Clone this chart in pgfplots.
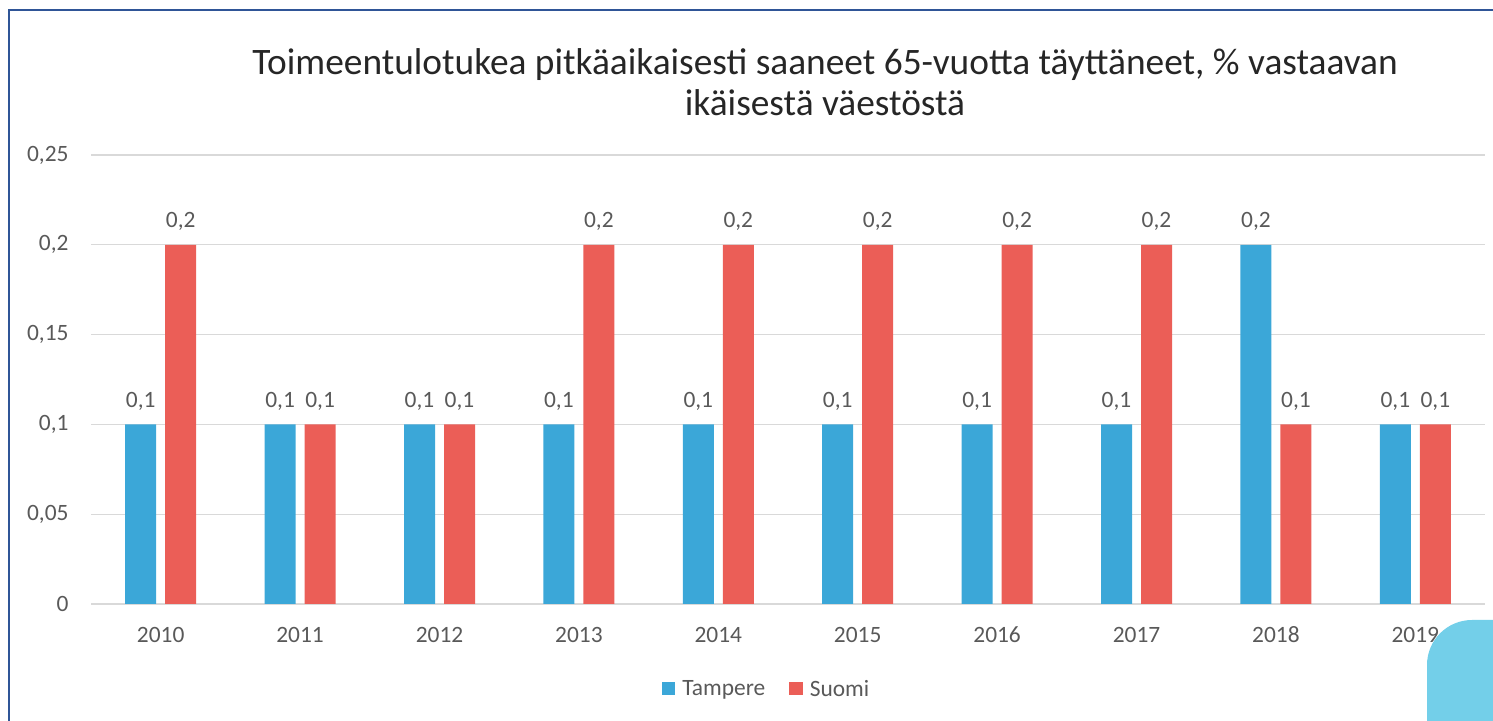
\documentclass[border=0pt]{standalone}
\usepackage{pgfplots}
\pgfplotsset{compat=1.18}
\usepackage{fontspec}
\setmainfont{Carlito}
\definecolor{tampere}{HTML}{3BA7D8}
\definecolor{suomi}{HTML}{EB5E57}
\definecolor{txtgray}{HTML}{595959}
\definecolor{gridgray}{HTML}{D9D9D9}
\definecolor{frameblue}{HTML}{2F5597}
\definecolor{deco}{HTML}{73CFE9}

\pgfplotstableread{
x tampere suomi
0 0.1 0.2
1 0.1 0.1
2 0.1 0.1
3 0.1 0.2
4 0.1 0.2
5 0.1 0.2
6 0.1 0.2
7 0.1 0.2
8 0.2 0.1
9 0.1 0.1
}\datatable

\begin{document}
\begin{tikzpicture}
% frame and corner decoration
\begin{scope}
\clip (0bp,0bp) rectangle (1493bp,721bp);
\draw[frameblue, line width=1.8bp] (9bp,-20bp) -- (9bp,711bp) -- (1520bp,711bp);
\fill[deco, rounded corners=45bp] (1427bp,-60bp) rectangle (1560bp,101bp);
\end{scope}
\node[font=\fontsize{37.5}{41}\selectfont, text=black!85, align=center] at (825bp,639bp)
  {Toimeentulotukea pitkäaikaisesti saaneet 65-vuotta täyttäneet, \% vastaavan\\ikäisestä väestöstä};
\begin{axis}[
  at={(91bp,117bp)}, anchor=south west,
  scale only axis, width=1394bp, height=449bp,
  ybar=9bp, bar width=31bp,
  xmin=-0.5, xmax=9.5,
  ymin=0, ymax=0.25,
  ytick={0,0.05,...,0.25},
  xtick={0,...,9},
  xticklabels={2010,2011,2012,2013,2014,2015,2016,2017,2018,2019},
  axis line style={draw=none},
  major tick length=0pt,
  ymajorgrids, grid style={gridgray, line width=1.2bp},
  /pgf/number format/.cd, use comma, fixed, assume math mode=true, /pgfplots/.cd,
  tick label style={font=\fontsize{23.5}{28}\selectfont, text=txtgray},
  yticklabel style={xshift=-19bp},
  xticklabel style={anchor=base, yshift=-38.5bp},
  nodes near coords,
  every node near coord/.append style={font=\fontsize{23.5}{28}\selectfont, text=txtgray,
    anchor=base, inner sep=0pt, yshift=17bp,
    /pgf/number format/.cd, fixed, precision=1, use comma},
  legend style={at={(0.4846,-0.189)}, anchor=center, draw=none, fill=none,
    legend columns=2, font=\fontsize{23.5}{28}\selectfont, text=txtgray,
    /tikz/every odd column/.append style={column sep=5bp},
    /tikz/every even column/.append style={column sep=22bp}},
  legend image code/.code={\fill[#1] (0bp,-6.5bp) rectangle (13.5bp,7bp);},
]
\addplot[fill=tampere, draw=none] table[x=x, y=tampere] {\datatable};
\addlegendentry{Tampere}
\addplot[fill=suomi, draw=none] table[x=x, y=suomi] {\datatable};
\addlegendentry{Suomi}
\end{axis}
\end{tikzpicture}
\end{document}
